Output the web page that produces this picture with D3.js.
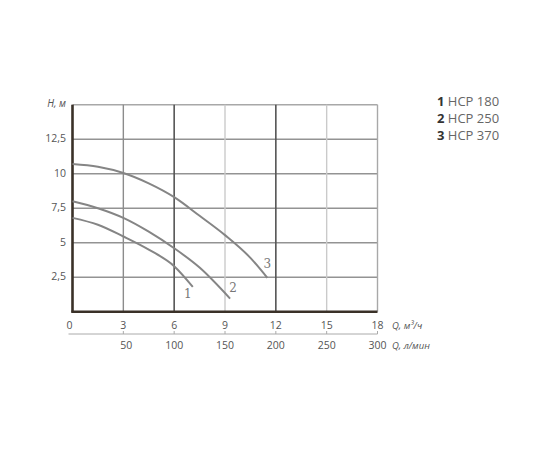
<!DOCTYPE html>
<html>
<head>
<meta charset="utf-8">
<script src="https://cdn.jsdelivr.net/npm/d3@7"></script>
<style>
  body { margin: 0; background: #fff; }
  text { font-family: "Open Sans", "DejaVu Sans", sans-serif; }
</style>
</head>
<body>
<script>
// pump curves, Q in m3/h, H in m
const curve1 = [[0, 6.8], [1.5, 6.3], [3, 5.45], [4.5, 4.5], [6, 3.3], [7.1, 1.8]];
const curve2 = [[0, 8.0], [1.5, 7.5], [3, 6.8], [4.5, 5.8], [6, 4.6], [7.5, 3.2], [9.3, 0.95]];
const curve3 = [[0, 10.7], [1.5, 10.5], [3, 10.05], [4.5, 9.3], [6, 8.3], [7.5, 6.95], [9, 5.55], [10.5, 3.9], [11.5, 2.45]];
const curveNames = ["1", "2", "3"];
const legendNames = ["HCP 180", "HCP 250", "HCP 370"];
const qTicks = [0, 3, 6, 9, 12, 15, 18];
const lminTicks = [50, 100, 150, 200, 250, 300];
const hTicks = [2.5, 5, 7.5, 10, 12.5];

const width = 550, height = 450;

const x = d3.scaleLinear().domain([0, 18]).range([72.5, 377.5]);
const y = d3.scaleLinear().domain([0, 15]).range([311.7, 104.7]);
// l/min -> same pixel position as m3/h (1 m3/h = 16.67 l/min)
const xl = d3.scaleLinear().domain([0, 300]).range([72.5, 377.5]);

const svg = d3.select("body")
  .append("svg")
  .attr("width", width)
  .attr("height", height);

// horizontal grid
svg.selectAll(".hgrid")
  .data(hTicks.concat([15]))
  .enter()
  .append("line")
  .attr("x1", x(0)).attr("x2", x(18))
  .attr("y1", d => y(d)).attr("y2", d => y(d))
  .attr("stroke", d => d === 15 ? "#a8a8a8" : "#939393")
  .attr("stroke-width", 1.5);

// vertical grid, every 6 is darker
svg.selectAll(".vgrid")
  .data(qTicks.slice(1))
  .enter()
  .append("line")
  .attr("x1", d => x(d)).attr("x2", d => x(d))
  .attr("y1", y(15)).attr("y2", y(0))
  .attr("stroke", d => d === 18 ? "#a8a8a8" : (d % 6 === 0 ? "#555" : (d === 3 ? "#8c8c8c" : "#cacaca")))
  .attr("stroke-width", d => d % 6 === 0 && d !== 18 ? 1.6 : 1.4);

// main axes
svg.append("line")
  .attr("x1", x(0)).attr("x2", x(0))
  .attr("y1", y(15)).attr("y2", y(0) + 1)
  .attr("stroke", "#3a3128")
  .attr("stroke-width", 2.6);
svg.append("line")
  .attr("x1", x(0) - 1).attr("x2", x(18))
  .attr("y1", y(0)).attr("y2", y(0))
  .attr("stroke", "#3a3128")
  .attr("stroke-width", 2.6);

// curves
const line = d3.line()
  .x(d => x(d[0]))
  .y(d => y(d[1]))
  .curve(d3.curveMonotoneX);

const curves = [curve1, curve2, curve3];
svg.selectAll(".curve")
  .data(curves)
  .enter()
  .append("path")
  .attr("d", line)
  .attr("fill", "none")
  .attr("stroke", "#858585")
  .attr("stroke-width", 2);

// curve numbers near the ends
const labelOffsets = [[-5, 8], [3, -10], [0, -13]];
svg.selectAll(".clabel")
  .data(curves)
  .enter()
  .append("text")
  .attr("x", (d, i) => x(d[d.length - 1][0]) + labelOffsets[i][0])
  .attr("y", (d, i) => y(d[d.length - 1][1]) + labelOffsets[i][1])
  .attr("text-anchor", "middle")
  .attr("dominant-baseline", "middle")
  .attr("font-size", 12)
  .style("font-family", "'DejaVu Serif', serif")
  .attr("fill", "#777")
  .text((d, i) => curveNames[i]);

// y tick labels
svg.selectAll(".ylab")
  .data(hTicks)
  .enter()
  .append("text")
  .attr("x", 66)
  .attr("y", d => y(d))
  .attr("text-anchor", "end")
  .attr("dominant-baseline", "middle")
  .attr("font-size", 10.5)
  .attr("fill", "#555")
  .text(d => String(d).replace(".", ","));

svg.append("text")
  .attr("x", 66)
  .attr("y", 104)
  .attr("text-anchor", "end")
  .attr("dominant-baseline", "middle")
  .attr("font-size", 10)
  .attr("font-style", "italic")
  .attr("fill", "#555")
  .text("H, м");

// x tick labels, m3/h
svg.selectAll(".xlab")
  .data(qTicks)
  .enter()
  .append("text")
  .attr("x", d => x(d) - (d === 0 ? 3 : 0))
  .attr("y", 326)
  .attr("text-anchor", "middle")
  .attr("dominant-baseline", "middle")
  .attr("font-size", 10.5)
  .attr("fill", "#555")
  .text(d => d);

// secondary axis, l/min
const axisL = d3.axisBottom(xl)
  .tickValues(lminTicks)
  .tickSize(0)
  .tickPadding(0)
  .tickFormat("");
const gL = svg.append("g")
  .attr("transform", "translate(0,334)")
  .call(axisL);
gL.select(".domain")
  .attr("d", "M" + (x(0) - 4) + ",0H" + xl(300))
  .attr("stroke", "#aaa");
svg.selectAll(".ltick")
  .data(lminTicks)
  .enter()
  .append("line")
  .attr("x1", d => xl(d)).attr("x2", d => xl(d))
  .attr("y1", 331).attr("y2", 334)
  .attr("stroke", "#aaa");

svg.selectAll(".llab")
  .data(lminTicks)
  .enter()
  .append("text")
  .attr("x", d => xl(d) + (d === 50 ? 3 : 0))
  .attr("y", 346)
  .attr("text-anchor", "middle")
  .attr("dominant-baseline", "middle")
  .attr("font-size", 10.5)
  .attr("fill", "#555")
  .text(d => d);

svg.append("text")
  .attr("x", 392)
  .attr("y", 326)
  .attr("dominant-baseline", "middle")
  .attr("font-size", 9.5)
  .attr("font-style", "italic")
  .attr("fill", "#555")
  .text("Q, м³/ч");
svg.append("text")
  .attr("x", 392)
  .attr("y", 346)
  .attr("dominant-baseline", "middle")
  .attr("font-size", 9.5)
  .attr("font-style", "italic")
  .attr("fill", "#555")
  .text("Q, л/мин");

// legend
const legend = svg.selectAll(".leg")
  .data(legendNames)
  .enter()
  .append("text")
  .attr("x", 437)
  .attr("y", (d, i) => 103 + i * 17)
  .attr("dominant-baseline", "middle")
  .attr("font-size", 13);
legend.append("tspan")
  .attr("font-weight", "bold")
  .attr("fill", "#333")
  .text((d, i) => curveNames[i] + " ");
legend.append("tspan")
  .attr("fill", "#666")
  .text(d => d);
</script>
</body>
</html>
